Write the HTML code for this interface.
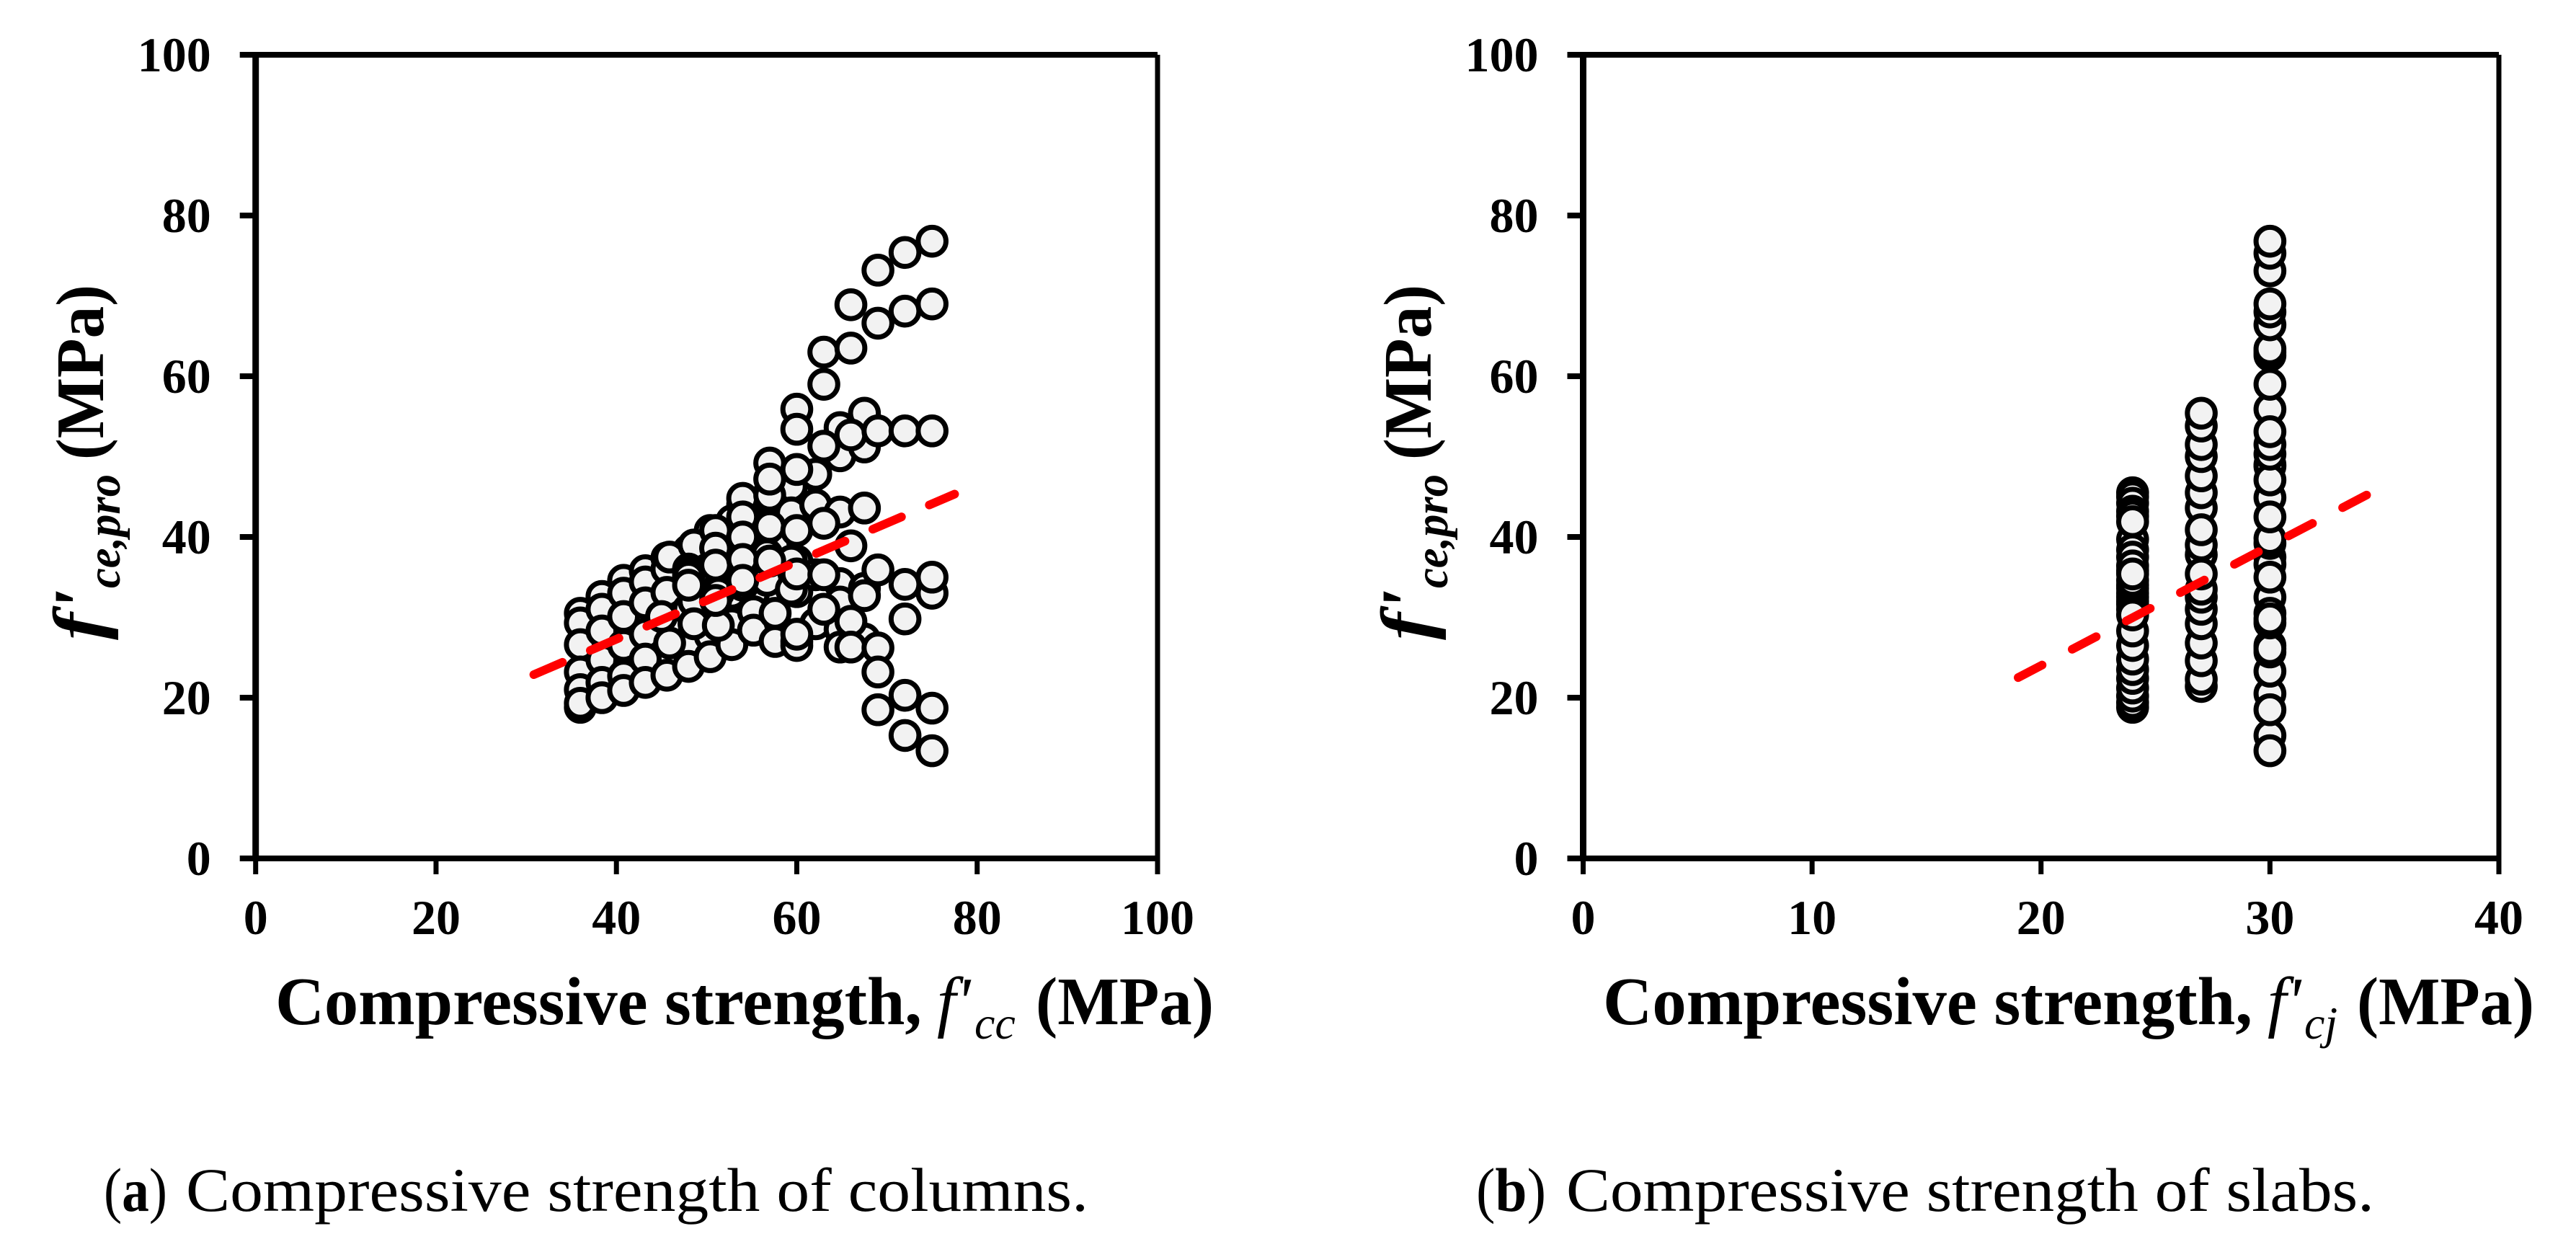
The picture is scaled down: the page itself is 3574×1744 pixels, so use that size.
<!DOCTYPE html>
<html lang="en">
<head>
<meta charset="utf-8">
<title>Compressive strength charts</title>
<style>
html,body{margin:0;padding:0;background:#fff;width:3574px;height:1744px;overflow:hidden}
svg{display:block}
text{font-family:"Liberation Serif",serif;fill:#000}
.tick{font-size:68px;font-weight:700}
.title{font-size:94px;font-weight:700}
.ital{font-size:94px;font-style:italic;font-weight:400}
.sub{font-size:64px;font-style:italic;font-weight:400}
.ybi{font-size:100px;font-style:italic;font-weight:700}
.ysub{font-size:66px;font-style:italic;font-weight:700}
.cap{font-size:86px}
</style>
</head>
<body>
<svg id="chart" width="3574" height="1744" viewBox="0 0 3574 1744" xmlns="http://www.w3.org/2000/svg">
  <rect x="0" y="0" width="3574" height="1744" fill="#ffffff"/>
  <g id="panelA"></g>
  <g id="panelB"></g>

  <g>
    <text class="title" x="382" y="1421" textLength="897" lengthAdjust="spacingAndGlyphs">Compressive strength,</text>
    <text class="ital" x="1300" y="1421">f'</text>
    <text class="sub" x="1352" y="1441">cc</text>
    <text class="title" x="1437" y="1421" textLength="247" lengthAdjust="spacingAndGlyphs">(MPa)</text>
  </g>
  <g>
    <text class="title" x="2224" y="1421" textLength="901" lengthAdjust="spacingAndGlyphs">Compressive strength,</text>
    <text class="ital" x="3146" y="1421">f'</text>
    <text class="sub" x="3197" y="1441">cj</text>
    <text class="title" x="3270" y="1421" textLength="246" lengthAdjust="spacingAndGlyphs">(MPa)</text>
  </g>

  <g>
    <text class="ybi" transform="translate(143,888) rotate(-90)" textLength="70" lengthAdjust="spacingAndGlyphs">f'</text>
    <text class="ysub" transform="translate(166,816) rotate(-90)" textLength="158" lengthAdjust="spacingAndGlyphs">ce,pro</text>
    <text class="title" transform="translate(143,638) rotate(-90)" textLength="243" lengthAdjust="spacingAndGlyphs">(MPa)</text>
  </g>
  <g>
    <text class="ybi" transform="translate(1985,888) rotate(-90)" textLength="70" lengthAdjust="spacingAndGlyphs">f'</text>
    <text class="ysub" transform="translate(2008,816) rotate(-90)" textLength="158" lengthAdjust="spacingAndGlyphs">ce,pro</text>
    <text class="title" transform="translate(1985,638) rotate(-90)" textLength="243" lengthAdjust="spacingAndGlyphs">(MPa)</text>
  </g>

  <g>
    <text class="cap" x="144" y="1680" textLength="88" lengthAdjust="spacingAndGlyphs">(<tspan font-weight="700">a</tspan>)</text>
    <text class="cap" x="258" y="1680" textLength="1252" lengthAdjust="spacingAndGlyphs">Compressive strength of columns.</text>
  </g>
  <g>
    <text class="cap" x="2048" y="1680" textLength="97" lengthAdjust="spacingAndGlyphs">(<tspan font-weight="700">b</tspan>)</text>
    <text class="cap" x="2173" y="1680" textLength="1121" lengthAdjust="spacingAndGlyphs">Compressive strength of slabs.</text>
  </g>
</svg>

<script>
// Tick labels
const yTicks = [0, 20, 40, 60, 80, 100];
const columnXTicks = [0, 20, 40, 60, 80, 100];
const slabXTicks = [0, 10, 20, 30, 40];

// Panel (a): compressive strength of columns (aligned x / y lists, line by line)
const columnX = [
  36,36,36,36,36,36,36,
  38.4,38.4,38.4,38.4,38.4,38.4,
  40.8,40.8,40.8,40.8,40.8,40.8,
  43.2,43.2,43.2,43.2,43.2,43.2,
  45.6,45.6,45.6,45.6,
  48,48,48,48,
  50.4,50.4,50.4,50.4,50.4,
  52.8,52.8,52.8,52.8,52.8,
  55.2,55.2,55.2,55.2,55.2,
  57.6,57.6,57.6,57.6,57.6,
  60,60,60,60,60,60,
  45.9,45.9,
  48.6,48.6,48.6,48.6,
  51.3,51.3,51.3,51.3,
  54,54,54,54,
  56.7,56.7,56.7,56.7,
  59.4,59.4,59.4,59.4,
  62.1,62.1,62.1,62.1,
  64.8,64.8,64.8,64.8,64.8,64.8,64.8,
  67.5,67.5,67.5,67.5,67.5,67.5,
  45,
  48,48,48,48,
  51,51,51,51,
  54,54,54,54,54,
  57,57,57,57,57,
  60,60,60,60,60,60,
  63,63,63,63,63,63,
  66,66,66,66,66,66,
  69,69,69,69,69,69,69,
  72,72,72,72,72,72,72,
  75,75,75,75,75,75,75
];
const columnY = [
  30.5,29.3,26.6,23.2,21,18.8,19.3,
  32.6,31,28.3,24.7,21.9,20,
  34.6,33,30.1,26.5,22.7,20.9,
  35.8,34.4,31.8,27.9,24.8,21.9,
  37.4,36,33.1,22.8,
  38.3,31,27,23.9,
  40.8,37,32,27.7,25.1,
  42,38,33,29.2,26.6,
  41.5,38,33,30.7,28.4,
  43,39,35,30.5,27,
  45.5,42,37,33.2,27,26.5,
  37.5,26.8,
  39,35.2,32,29.2,
  40,36.5,33,29,
  44,40,37.2,34,
  45,41,37.8,34.6,
  46.3,43,37,33.5,
  47.8,44,35.3,29.2,
  53.6,50.1,43.1,34.2,31.9,28.5,26.3,
  55.4,51.2,43.6,33.6,32.7,27.3,
  30.1,
  36,35.5,35,34,
  40.8,38.6,36.5,32.1,
  44.8,42.5,40,37.2,34.6,
  49.2,45.2,47.2,41.3,37,
  55.9,53.4,48.4,40.8,35.4,27.9,
  63,59,51.3,41.7,35.3,31,
  68.9,63.5,52.7,38.9,29.5,26.3,
  73.2,66.6,53.2,35.9,26.2,23.2,18.5,
  75.4,68.1,53.2,34.1,29.8,20.3,15.3,
  76.8,69,53.2,33,35,18.7,13.4
];
const columnTrendX = [30.84, 77.5];
const columnTrendY = [22.87, 45.33];

// Panel (b): compressive strength of slabs
const slabCategories = [24, 27, 30];
const slab24Y = [45.5,45,44.2,43.2,42.6,39.7,38.4,37.5,41.9,18.8,19.4,20.2,21.2,22.4,23.5,24.8,26.5,28.3,31,31.6,32,32.5,33,33.6,34,34.6,35.8,36.4,35.4,30.3];
const slab27Y = [21.4,22.3,24.6,26.8,29.2,31,32.5,33.5,37.8,35.4,39,43.6,45.5,47.6,50,51.5,40.9,53.8,55.4];
const slab30Y = [15.3,13.4,20.5,18.5,23.3,26.5,25.7,26.1,32.5,30.5,29.3,29.8,37.5,36.6,35,39.2,39.8,44.9,42.5,49,48.8,47.1,50.3,51.5,55.9,53.1,59,62.6,63,63.4,66.4,68,69,73.1,75.3,76.8];
const slabTrendX = [19.0, 34.28];
const slabTrendY = [22.5, 45.3];

const SVGNS = 'http://www.w3.org/2000/svg';
const plotTop = 76, plotBottom = 1191;
function yScale(v) { return plotBottom - (v / 100) * (plotBottom - plotTop); }
function columnXScale(v) { return 354.7 + (v / 100) * (1606 - 354.7); }
function slabXScale(v) { return 2196.5 + (v / 40) * (3467 - 2196.5); }

function make(parent, tag, attrs) {
  const el = document.createElementNS(SVGNS, tag);
  for (const k in attrs) el.setAttribute(k, attrs[k]);
  parent.appendChild(el);
  return el;
}

function drawFrame(group, xScale, xMax, xTicks) {
  const left = xScale(0), right = xScale(xMax), top = yScale(100), bottom = yScale(0);

  yTicks.forEach(function (t) {
    const tick = make(group, 'line', {x1: left - 22, x2: left, y1: yScale(t), y2: yScale(t), stroke: '#000', 'stroke-width': 8});
    
    
    const label = make(group, 'text', {x: left - 62, y: yScale(t) + 23, 'text-anchor': 'end', 'class': 'tick'});
    label.textContent = String(t);
    
    
  });

  xTicks.forEach(function (t) {
    const tick = make(group, 'line', {x1: xScale(t), x2: xScale(t), y1: bottom, y2: bottom + 22, stroke: '#000', 'stroke-width': 7});
    
    
    const label = make(group, 'text', {x: xScale(t), y: bottom + 105, 'text-anchor': 'middle', 'class': 'tick'});
    label.textContent = String(t);
    
    
  });

  const topBorder = make(group, 'line', {x1: left, x2: right, y1: top, y2: top, stroke: '#000', 'stroke-width': 8});
  
  
  const rightBorder = make(group, 'line', {x1: right, x2: right, y1: top, y2: bottom, stroke: '#000', 'stroke-width': 7});
  
  
  const yAxis = make(group, 'line', {x1: left, x2: left, y1: top - 4, y2: bottom + 4, stroke: '#000', 'stroke-width': 9});
  
  
  const xAxis = make(group, 'line', {x1: left - 4, x2: right + 3, y1: bottom, y2: bottom, stroke: '#000', 'stroke-width': 8});
  
  
}

function drawPoint(group, px, py) {
  const pt = make(group, 'circle', {cx: px, cy: py, r: 19.3, fill: '#f2f2f2', stroke: '#000', 'stroke-width': 7});
  
  
}

function drawTrend(group, xScale, trendX, trendY, dash) {
  const trend = make(group, 'line', {
    x1: xScale(trendX[0]), y1: yScale(trendY[0]),
    x2: xScale(trendX[1]), y2: yScale(trendY[1]),
    stroke: '#ff0000', 'stroke-width': 12, 'stroke-linecap': 'round', 'stroke-dasharray': dash
  });
  
  
}

const panelA = document.getElementById('panelA');
drawFrame(panelA, columnXScale, 100, columnXTicks);
columnX.forEach(function (x, i) {
  drawPoint(panelA, columnXScale(x), yScale(columnY[i]));
});
drawTrend(panelA, columnXScale, columnTrendX, columnTrendY, '43.3 42');

const panelB = document.getElementById('panelB');
drawFrame(panelB, slabXScale, 40, slabXTicks);
[slab24Y, slab27Y, slab30Y].forEach(function (series, c) {
  series.forEach(function (y) {
    drawPoint(panelB, slabXScale(slabCategories[c]), yScale(y));
  });
});
drawTrend(panelB, slabXScale, slabTrendX, slabTrendY, '37.6 47.1');
</script>
</body>
</html>
